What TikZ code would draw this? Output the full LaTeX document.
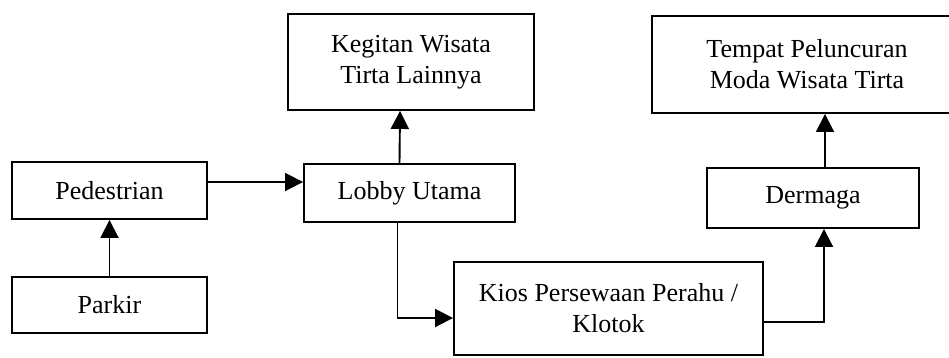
\documentclass[tikz,border=0pt]{standalone}
\usepackage{fontspec}
\setmainfont{Liberation Serif}
\usetikzlibrary{arrows.meta,positioning}

\begin{document}
\begin{tikzpicture}[x=1pt, y=-1pt, ->, >={Triangle[length=18pt,width=18pt]}, line width=1.9pt,
        box/.style={draw, -, rectangle, inner sep=0pt, align=center, font=\fontsize{26}{31}\selectfont}]
                \useasboundingbox (0,0) rectangle (949,357);
                \clip (0,0) rectangle (949,357);

                \node[box, minimum width=195pt, minimum height=56pt]  (parkir)  at (109.5,305)   {Parkir};
                \node[box, minimum width=195pt, minimum height=57pt]  (ped)     at (109.5,190.5) {Pedestrian};
                \node[box, minimum width=211pt, minimum height=58pt]  (lobby)   at (409.5,193)   {Lobby Utama};
                \node[box, minimum width=246pt, minimum height=96pt]  (kegitan) at (411,62)      {Kegitan Wisata\\Tirta Lainnya};
                \node[box, minimum width=309pt, minimum height=93pt]  (kios)    at (608.5,308.5) {Kios Persewaan Perahu /\\Klotok};
                \node[box, minimum width=212pt, minimum height=60pt]  (dermaga) at (813,198)     {Dermaga};
                \node[box, minimum width=310pt, minimum height=97pt]  (tempat)  at (807,64.5)    {Tempat Peluncuran\\Moda Wisata Tirta};

                \path
                (parkir) edge (ped)
                ([yshift=8.5pt]ped.east) edge ([yshift=11pt]lobby.west)
                ([xshift=-10pt]lobby.north) edge ([xshift=-11pt]kegitan.south)
                ([xshift=12pt]dermaga.north) edge ([xshift=18pt]tempat.south);

                \draw ([xshift=-12pt]lobby.south) |- ([yshift=-9.5pt]kios.west);
                \draw ([yshift=-13.5pt]kios.east) -| ([xshift=11pt]dermaga.south);
            \end{tikzpicture}
\end{document}
